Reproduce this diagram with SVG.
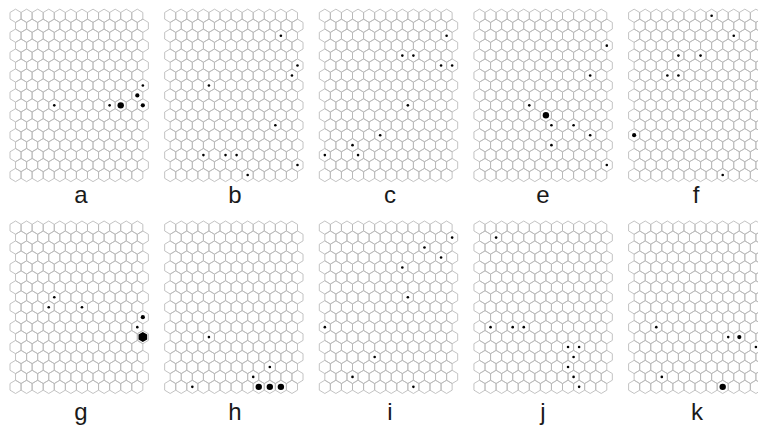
<svg xmlns="http://www.w3.org/2000/svg" width="758" height="429" viewBox="0 0 758 429">
<style>
.grid{fill:none;stroke:#b8b8b8;stroke-width:0.85}
.lbl{font-family:"Liberation Sans",Arial,sans-serif;font-size:24px;fill:#1a1a1a;text-anchor:middle}
</style>
<defs>
<path id="hx" d="M0,-6.635L5.535,-3.3175V3.3175L0,6.635L-5.535,3.3175V-3.3175Z"/>
<g id="row">
<use href="#hx" x="0"/><use href="#hx" x="11.07"/><use href="#hx" x="22.14"/><use href="#hx" x="33.21"/>
<use href="#hx" x="44.28"/><use href="#hx" x="55.35"/><use href="#hx" x="66.42"/><use href="#hx" x="77.49"/>
<use href="#hx" x="88.56"/><use href="#hx" x="99.63"/><use href="#hx" x="110.7"/><use href="#hx" x="121.77"/>
</g>
<g id="grid" class="grid">
<use href="#row" y="0"/><use href="#row" x="5.535" y="9.95"/>
<use href="#row" y="19.9"/><use href="#row" x="5.535" y="29.85"/>
<use href="#row" y="39.8"/><use href="#row" x="5.535" y="49.75"/>
<use href="#row" y="59.7"/><use href="#row" x="5.535" y="69.65"/>
<use href="#row" y="79.6"/><use href="#row" x="5.535" y="89.55"/>
<use href="#row" y="99.5"/><use href="#row" x="5.535" y="109.45"/>
<use href="#row" y="119.4"/><use href="#row" x="5.535" y="129.35"/>
<use href="#row" y="139.3"/><use href="#row" x="5.535" y="149.25"/>
<use href="#row" y="159.2"/>
</g>
<circle id="d" r="1.3"/>
<circle id="m" r="2.1"/>
<circle id="l" r="3.2"/>
<path id="xl" d="M0,-5L4.33,-2.5V2.5L0,5L-4.33,2.5V-2.5Z"/>
</defs>

<g id="panel-a" transform="translate(15.535,15.8)">
<use href="#grid"/>
<use href="#d" x="127.305" y="69.65"/>
<use href="#m" x="121.77" y="79.6"/>
<use href="#d" x="38.745" y="89.55"/>
<use href="#d" x="94.095" y="89.55"/>
<use href="#l" x="105.165" y="89.55"/>
<use href="#m" x="127.305" y="89.55"/>
</g>
<g id="panel-b" transform="translate(170.185,15.8)">
<use href="#grid"/>
<use href="#d" x="110.7" y="19.9"/>
<use href="#d" x="127.305" y="49.75"/>
<use href="#d" x="121.77" y="59.7"/>
<use href="#d" x="38.745" y="69.65"/>
<use href="#d" x="105.165" y="109.45"/>
<use href="#d" x="33.21" y="139.3"/>
<use href="#d" x="55.35" y="139.3"/>
<use href="#d" x="66.42" y="139.3"/>
<use href="#d" x="127.305" y="149.25"/>
<use href="#d" x="77.49" y="159.2"/>
</g>
<g id="panel-c" transform="translate(324.835,15.8)">
<use href="#grid"/>
<use href="#d" x="121.77" y="19.9"/>
<use href="#d" x="77.49" y="39.8"/>
<use href="#d" x="88.56" y="39.8"/>
<use href="#d" x="116.235" y="49.75"/>
<use href="#d" x="127.305" y="49.75"/>
<use href="#d" x="83.025" y="89.55"/>
<use href="#d" x="55.35" y="119.4"/>
<use href="#d" x="27.675" y="129.35"/>
<use href="#d" x="0" y="139.3"/>
<use href="#d" x="33.21" y="139.3"/>
</g>
<g id="panel-e" transform="translate(479.485,15.8)">
<use href="#grid"/>
<use href="#d" x="127.305" y="29.85"/>
<use href="#d" x="110.7" y="59.7"/>
<use href="#d" x="49.815" y="89.55"/>
<use href="#l" x="66.42" y="99.5"/>
<use href="#d" x="71.955" y="109.45"/>
<use href="#d" x="94.095" y="109.45"/>
<use href="#d" x="110.7" y="119.4"/>
<use href="#d" x="71.955" y="129.35"/>
<use href="#d" x="127.305" y="149.25"/>
</g>
<g id="panel-f" transform="translate(634.135,15.8)">
<use href="#grid"/>
<use href="#d" x="77.49" y="0"/>
<use href="#d" x="99.63" y="19.9"/>
<use href="#d" x="44.28" y="39.8"/>
<use href="#d" x="66.42" y="39.8"/>
<use href="#d" x="33.21" y="59.7"/>
<use href="#d" x="44.28" y="59.7"/>
<use href="#m" x="0" y="119.4"/>
<use href="#d" x="88.56" y="159.2"/>
</g>

<g id="panel-g" transform="translate(15.535,227.65)">
<use href="#grid"/>
<use href="#d" x="38.745" y="69.65"/>
<use href="#d" x="33.21" y="79.6"/>
<use href="#d" x="66.42" y="79.6"/>
<use href="#m" x="127.305" y="89.55"/>
<use href="#d" x="121.77" y="99.5"/>
<use href="#xl" x="127.305" y="109.45"/>
</g>
<g id="panel-h" transform="translate(170.185,227.65)">
<use href="#grid"/>
<use href="#d" x="38.745" y="109.45"/>
<use href="#d" x="99.63" y="139.3"/>
<use href="#d" x="83.025" y="149.25"/>
<use href="#d" x="22.14" y="159.2"/>
<use href="#l" x="88.56" y="159.2"/>
<use href="#l" x="99.63" y="159.2"/>
<use href="#l" x="110.7" y="159.2"/>
</g>
<g id="panel-i" transform="translate(324.835,227.65)">
<use href="#grid"/>
<use href="#d" x="127.305" y="9.95"/>
<use href="#d" x="99.63" y="19.9"/>
<use href="#d" x="116.235" y="29.85"/>
<use href="#d" x="77.49" y="39.8"/>
<use href="#d" x="83.025" y="69.65"/>
<use href="#d" x="0" y="99.5"/>
<use href="#d" x="49.815" y="129.35"/>
<use href="#d" x="27.675" y="149.25"/>
<use href="#d" x="88.56" y="159.2"/>
</g>
<g id="panel-j" transform="translate(479.485,227.65)">
<use href="#grid"/>
<use href="#d" x="16.605" y="9.95"/>
<use href="#d" x="11.07" y="99.5"/>
<use href="#d" x="33.21" y="99.5"/>
<use href="#d" x="44.28" y="99.5"/>
<use href="#d" x="88.56" y="119.4"/>
<use href="#d" x="99.63" y="119.4"/>
<use href="#d" x="94.095" y="129.35"/>
<use href="#d" x="88.56" y="139.3"/>
<use href="#d" x="94.095" y="149.25"/>
<use href="#d" x="99.63" y="159.2"/>
</g>
<g id="panel-k" transform="translate(634.135,227.65)">
<use href="#grid"/>
<use href="#d" x="22.14" y="99.5"/>
<use href="#d" x="94.095" y="109.45"/>
<use href="#m" x="105.165" y="109.45"/>
<use href="#d" x="121.77" y="119.4"/>
<use href="#d" x="27.675" y="149.25"/>
<use href="#l" x="88.56" y="159.2"/>
</g>

<g id="labels">
<text class="lbl" x="81" y="203">a</text>
<text class="lbl" x="235" y="203">b</text>
<text class="lbl" x="390" y="203">c</text>
<text class="lbl" x="543" y="203">e</text>
<text class="lbl" x="696" y="203">f</text>
<text class="lbl" x="81" y="420">g</text>
<text class="lbl" x="235" y="420">h</text>
<text class="lbl" x="390" y="420">i</text>
<text class="lbl" x="543" y="420">j</text>
<text class="lbl" x="697" y="420">k</text>
</g>
</svg>
